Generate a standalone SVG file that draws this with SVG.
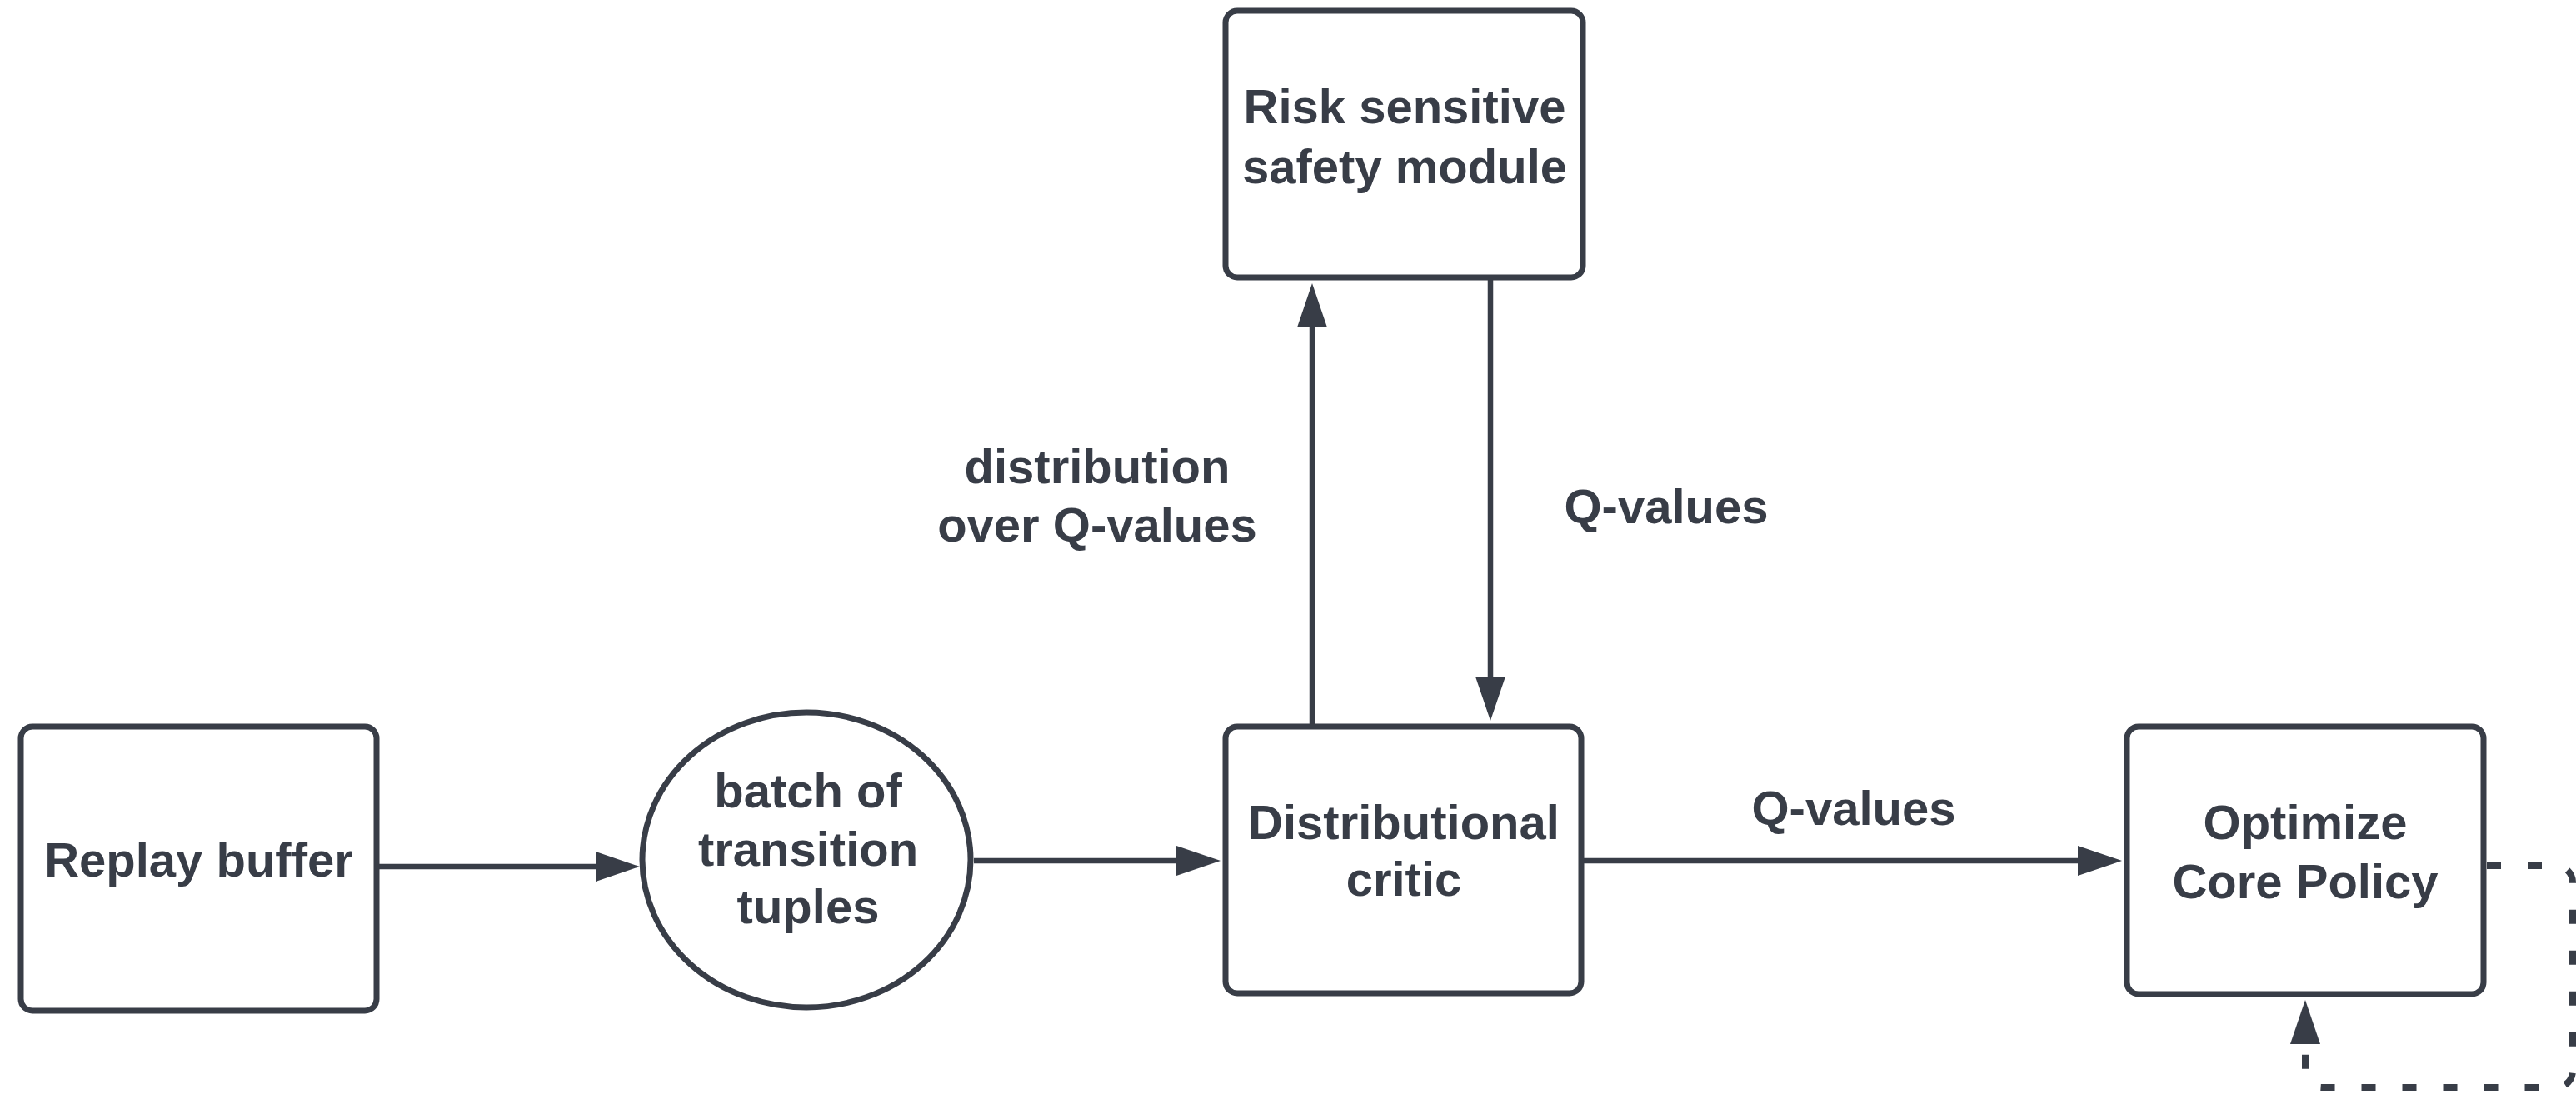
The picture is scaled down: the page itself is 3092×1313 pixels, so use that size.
<svg xmlns="http://www.w3.org/2000/svg" width="3092" height="1313" viewBox="0 0 3092 1313">
  <style>
    .box { fill: #ffffff; stroke: #383d47; stroke-width: 7; }
    .lbl { font-family: "Liberation Sans", Arial, sans-serif; font-weight: bold; font-size: 58px; fill: #383d47; text-anchor: middle; }
    .edge { fill: none; stroke: #383d47; stroke-width: 6.5; }
    .dash { stroke-width: 8; stroke-dasharray: 17 32; }
  </style>
  <defs>
    <marker id="arrow" markerUnits="userSpaceOnUse" markerWidth="56" markerHeight="40" refX="2" refY="18" orient="auto">
      <path d="M0,0 L53,18 L0,36 Z" fill="#383d47"/>
    </marker>
  </defs>
  <rect width="3092" height="1313" fill="#ffffff"/>

  <!-- connectors -->
  <g id="connectors">
    <line class="edge" x1="455" y1="1040" x2="717" y2="1040" marker-end="url(#arrow)"/>
    <line class="edge" x1="1169" y1="1033" x2="1414" y2="1033" marker-end="url(#arrow)"/>
    <line class="edge" x1="1901" y1="1033" x2="2496" y2="1033" marker-end="url(#arrow)"/>
    <line class="edge" x1="1575" y1="869" x2="1575" y2="391" marker-end="url(#arrow)"/>
    <line class="edge" x1="1789" y1="336" x2="1789" y2="814" marker-end="url(#arrow)"/>
    <!-- self loop on the policy node -->
    <path class="edge dash" d="M2985,1039 H3069 A20,20 0 0 1 3088,1059 V1285 A20,20 0 0 1 3069,1305 H2787 A20,20 0 0 1 2767,1285 V1251" marker-end="url(#arrow)"/>
    <text class="lbl" x="1317" y="580">distribution</text>
    <text class="lbl" x="1317" y="650">over Q-values</text>
    <text class="lbl" x="2000" y="628">Q-values</text>
    <text class="lbl" x="2225" y="990">Q-values</text>
  </g>

  <g id="replay-buffer">
    <rect class="box" x="25" y="872" width="427" height="341" rx="14"/>
    <text class="lbl" x="238.5" y="1052">Replay buffer</text>
  </g>

  <g id="batch">
    <ellipse class="box" cx="968" cy="1032" rx="197" ry="177"/>
    <text class="lbl" x="970" y="969">batch of</text>
    <text class="lbl" x="970" y="1039">transition</text>
    <text class="lbl" x="970" y="1108">tuples</text>
  </g>

  <g id="critic">
    <rect class="box" x="1471" y="872" width="427" height="320" rx="14"/>
    <text class="lbl" x="1685" y="1007">Distributional</text>
    <text class="lbl" x="1685" y="1075">critic</text>
  </g>

  <g id="safety-module">
    <rect class="box" x="1471" y="13" width="429" height="320" rx="14"/>
    <text class="lbl" x="1686" y="148">Risk sensitive</text>
    <text class="lbl" x="1686" y="220">safety module</text>
  </g>

  <g id="policy">
    <rect class="box" x="2553" y="872" width="428" height="321" rx="14"/>
    <text class="lbl" x="2767" y="1007">Optimize</text>
    <text class="lbl" x="2767" y="1078">Core Policy</text>
  </g>
</svg>
